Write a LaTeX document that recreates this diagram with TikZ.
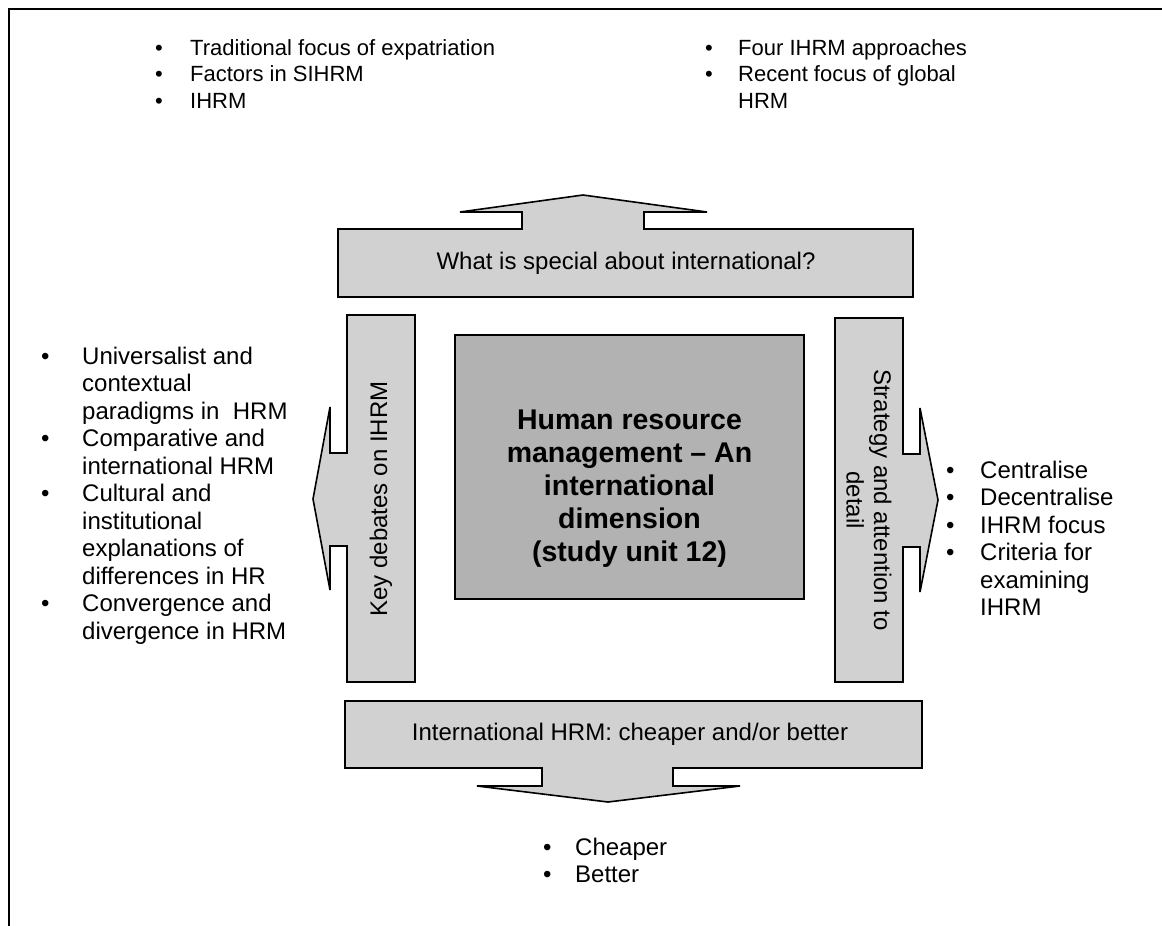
\documentclass[tikz,border=0pt]{standalone}
\usepackage{fontspec}
\setmainfont{Liberation Sans}
\usepackage{array}
\usetikzlibrary{calc}
\definecolor{boxgray}{gray}{0.82}
\definecolor{coregray}{gray}{0.70}
\tikzset{every scope/.style={line join=miter},
  block/.style={draw=black,line width=1.6pt,fill=boxgray},
  core/.style={draw=black,line width=1.6pt,fill=coregray},
  lbl/.style={inner sep=0pt,font=\fontsize{24}{27.5}\selectfont},
  toplist/.style={inner sep=0pt,anchor=base west,font=\fontsize{22}{26.5}\selectfont},
  sidelist/.style={inner sep=0pt,anchor=base west,font=\fontsize{24}{27.5}\selectfont}}
\newcommand{\blist}[2]{\begin{tabular}[t]{@{}p{#1pt}@{}l@{}}#2\end{tabular}}

\begin{document}
\begin{tikzpicture}[x=1pt,y=-1pt]
  \useasboundingbox (0,0) rectangle (1162,926);
  % frame, only top and left edges show
  \draw[line width=2.5pt] (9,926) -- (9,9) -- (1162,9);

  % top block arrow
  \draw[block] (338,229) -- (522,229) -- (522,212) -- (460,212) -- (583,195) -- (707,212)
    -- (644,212) -- (644,229) -- (913,229) -- (913,297) -- (338,297) -- cycle;
  \node[lbl] (special) at (626,263) {What is special about international?};

  % left block arrow
  \draw[block] (415,315) -- (415,682) -- (347,682) -- (347,546) -- (330,546) -- (330,590)
    -- (313,499) -- (330,407) -- (330,453) -- (347,453) -- (347,315) -- cycle;
  \node[lbl,rotate=90] (debates) at (381,499) {Key debates on IHRM};

  % right block arrow
  \draw[block] (835,318) -- (903,318) -- (903,454) -- (920,454) -- (920,408) -- (938,500)
    -- (920,592) -- (920,547) -- (903,547) -- (903,682) -- (835,682) -- cycle;
  \node[lbl,rotate=-90,align=center] (strategy) at (869,500) {Strategy and attention to\\detail};

  % bottom block arrow
  \draw[block] (345,701) -- (922,701) -- (922,768) -- (673,768) -- (673,786) -- (740,786)
    -- (608,802) -- (477,786) -- (542,786) -- (542,768) -- (345,768) -- cycle;
  \node[lbl] (cheaper) at (630,734) {International HRM: cheaper and/or better};

  % centre
  \draw[core] (455,335) rectangle (804,599);
  \node[inner sep=0pt,align=center,font=\fontsize{28.5}{33}\selectfont\bfseries] (hrm) at (629.5,489)
    {Human resource\\management -- An\\international\\dimension\\(study unit 12)};

  % bullet lists
  \node[toplist] (expat) at (155,55) {\blist{35}{\textbullet & Traditional focus of expatriation\\
    \textbullet & Factors in SIHRM\\ \textbullet & IHRM}};
  \node[toplist] (global) at (705,55) {\blist{33}{\textbullet & Four IHRM approaches\\
    \textbullet & Recent focus of global\\ & HRM}};
  \node[sidelist] (paradigms) at (41,364) {\blist{41}{\textbullet & Universalist and\\ & contextual\\
    & paradigms in~ HRM\\ \textbullet & Comparative and\\ & international HRM\\
    \textbullet & Cultural and\\ & institutional\\ & explanations of\\ & differences in HR\\
    \textbullet & Convergence and\\ & divergence in HRM}};
  \node[sidelist] (centralise) at (946,478) {\blist{34}{\textbullet & Centralise\\
    \textbullet & Decentralise\\ \textbullet & IHRM focus\\ \textbullet & Criteria for\\
    & examining\\ & IHRM}};
  \node[sidelist] (better) at (543,855) {\blist{32}{\textbullet & Cheaper\\ \textbullet & Better}};
\end{tikzpicture}
\end{document}
